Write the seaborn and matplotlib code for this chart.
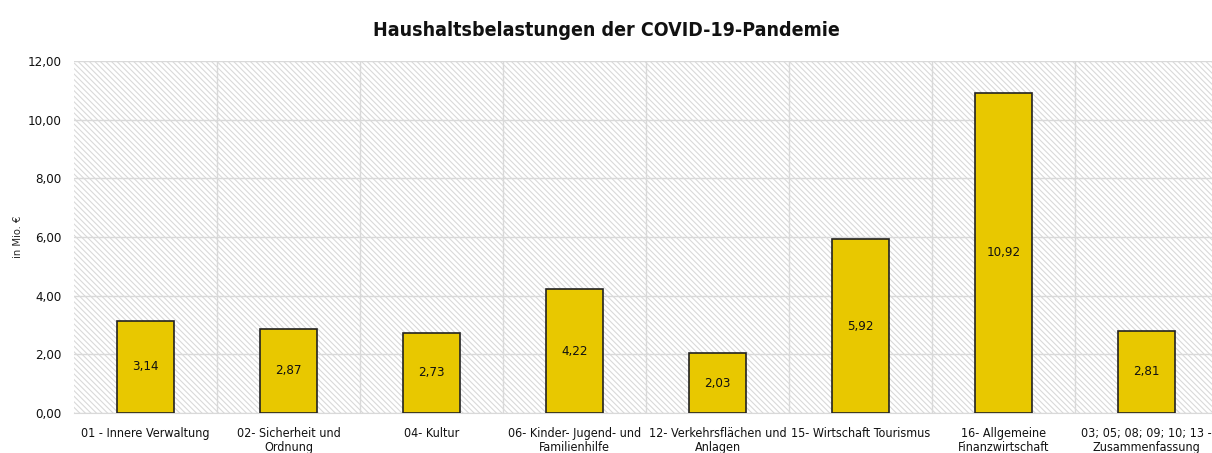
import matplotlib
matplotlib.use("Agg")
import matplotlib.pyplot as plt
import seaborn as sns
import pandas as pd
from matplotlib import font_manager

kategorien = [
    "01 - Innere Verwaltung",
    "02- Sicherheit und\nOrdnung",
    "04- Kultur",
    "06- Kinder- Jugend- und\nFamilienhilfe",
    "12- Verkehrsflächen und\nAnlagen",
    "15- Wirtschaft Tourismus",
    "16- Allgemeine\nFinanzwirtschaft",
    "03; 05; 08; 09; 10; 13 -\nZusammenfassung",
]
werte = [3.14, 2.87, 2.73, 4.22, 2.03, 5.92, 10.92, 2.81]
y_ticks = [0, 2, 4, 6, 8, 10, 12]

sns.set_style("white")


def finde_schmal(fett):
    # schmale Schrift suchen (Liberation Sans Narrow oder DejaVu Sans Condensed)
    kandidaten = []
    for f in font_manager.fontManager.ttflist:
        pfad = f.fname.lower().replace("-", "").replace("_", "")
        ist_fett = "bold" in pfad
        if ist_fett != fett or "italic" in pfad or "oblique" in pfad:
            continue
        if "liberationsansnarrow" in pfad:
            kandidaten.append((0, f.fname))
        elif "dejavusanscondensed" in pfad:
            kandidaten.append((1, f.fname))
    kandidaten.sort()
    return kandidaten[0][1] if kandidaten else None


pfad_normal = finde_schmal(False)
pfad_fett = finde_schmal(True)
skal = 1.0 if pfad_normal else 0.82


def fp(size, fett=False):
    pfad = pfad_fett if fett else pfad_normal
    if pfad:
        return font_manager.FontProperties(fname=pfad, size=size)
    return font_manager.FontProperties(family="Liberation Sans", size=size * skal,
                                       weight="bold" if fett else "normal")


plt.rcParams["font.family"] = ["Liberation Sans", "DejaVu Sans"]
plt.rcParams["hatch.color"] = "#d9d9d9"
plt.rcParams["hatch.linewidth"] = 0.8

df = pd.DataFrame({"kat": kategorien, "wert": werte})

fig = plt.figure(figsize=(12.12, 4.53), dpi=100)
ax = fig.add_axes([0.061, 0.0883, 0.944, 0.777])

# schraffierter Hintergrund
ax.patch.set_facecolor("white")
ax.patch.set_hatch("\\\\\\\\\\\\")
ax.patch.set_edgecolor("#d9d9d9")

sns.barplot(data=df, x="kat", y="wert", color="#E8C800", edgecolor="#222222",
            linewidth=1.2, width=0.4, saturation=1, ax=ax, zorder=3)

ax.set_ylim(0, 12)
ax.set_xlim(-0.5, len(kategorien) - 0.5)
ax.set_yticks(y_ticks)
ax.set_yticklabels([f"{v:.2f}".replace(".", ",") for v in y_ticks])
ax.set_xticks(range(len(kategorien)))
ax.set_xticklabels(kategorien, linespacing=1.1)
for t in ax.get_yticklabels():
    t.set_fontproperties(fp(9.5))
    t.set_color("#111111")
for t in ax.get_xticklabels():
    t.set_fontproperties(fp(9))
    t.set_color("#111111")
ax.set_xticks([i + 0.5 for i in range(len(kategorien) - 1)], minor=True)
ax.tick_params(axis="y", length=0, pad=9)
ax.tick_params(axis="x", length=0, pad=10)
ax.tick_params(axis="x", which="minor", length=0)

ax.grid(axis="y", color="#d9d9d9", linewidth=1, zorder=1)
ax.grid(axis="x", which="minor", color="#d9d9d9", linewidth=1, zorder=1)
ax.grid(axis="x", which="major", visible=False)
ax.set_axisbelow(True)
for s in ax.spines.values():
    s.set_visible(False)
ax.spines["bottom"].set_visible(True)
ax.spines["bottom"].set_color("#d9d9d9")

for i, v in enumerate(werte):
    ax.text(i, v / 2, f"{v:.2f}".replace(".", ","), ha="center", va="center",
            fontproperties=fp(9.5), color="#111111", zorder=4)

ax.set_xlabel("")
ax.set_ylabel("")
fig.text(0.015, 0.0883 + 0.777 * 0.5, "in Mio. €", rotation=90, ha="center",
         va="center", fontproperties=fp(8))
fig.text(0.5, 0.933, "Haushaltsbelastungen der COVID-19-Pandemie", ha="center",
         va="center", fontproperties=fp(14, fett=True), color="#111111")

fig.savefig("out.png", dpi=100)
